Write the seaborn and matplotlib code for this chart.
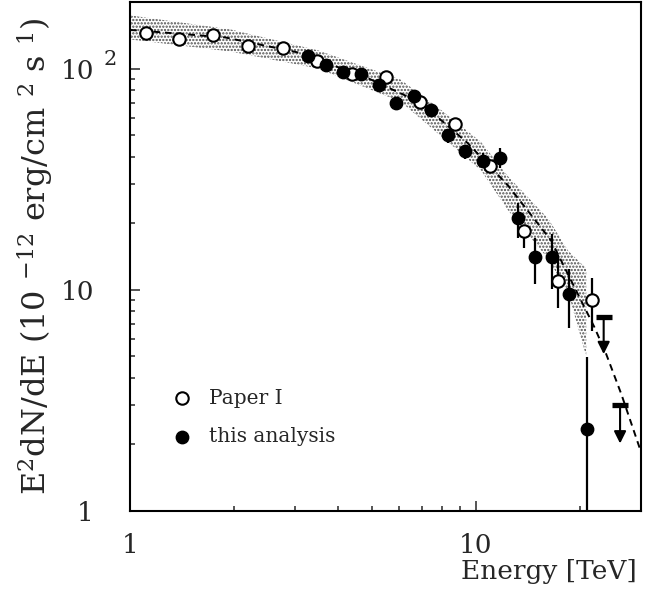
import numpy as np
import seaborn as sns
import matplotlib.pyplot as plt
from matplotlib.ticker import FixedLocator, FixedFormatter, NullFormatter, LogLocator

# Paper I (open circles)
paper_e = [1.11, 1.39, 1.74, 2.20, 2.76, 3.48, 4.37, 5.50, 6.90, 8.69, 10.98, 13.75, 17.25, 21.69]
paper_f = [145.3, 136.5, 141.3, 126.3, 124.2, 108.0, 94.6, 91.3, 70.3, 55.9, 36.4, 18.35, 10.99, 8.98]
paper_lo = [145.3, 136.5, 141.3, 126.3, 124.2, 108.0, 94.6, 91.3, 70.3, 55.9, 34.0, 15.4, 8.28, 6.51]
paper_up = [145.3, 136.5, 141.3, 126.3, 124.2, 108.0, 94.6, 91.3, 70.3, 55.9, 38.5, 19.5, 13.8, 11.3]

# this analysis (filled circles)
this_e = [3.27, 3.68, 4.14, 4.66, 5.25, 5.89, 6.63, 7.41, 8.32, 9.31, 10.46, 11.74, 13.21, 14.83, 16.61, 18.64, 20.94]
this_f = [114.6, 104.3, 96.6, 94.9, 84.6, 69.9, 75.4, 65.1, 50.0, 42.5, 38.2, 39.5, 21.1, 14.0, 14.1, 9.62, 2.34]
this_lo = [114.6, 104.3, 96.6, 94.9, 84.6, 69.9, 75.4, 65.1, 46.1, 39.0, 35.5, 35.5, 17.2, 10.65, 10.1, 6.72, 0.5]
this_up = [114.6, 104.3, 96.6, 94.9, 84.6, 69.9, 75.4, 65.1, 53.4, 45.1, 41.5, 43.7, 24.6, 17.2, 17.97, 12.46, 4.96]

# upper limits
ul_e = [23.4, 26.1]
ul_f = [7.56, 3.0]
ul_tip = [5.12, 2.02]

# fitted spectrum (dashed) and its error band
fit_e = [1.0, 1.055, 1.885, 3.07, 4.86, 6.93, 9.46, 12.36, 16.5, 21.98, 23.8, 26.33, 30.0]
fit_f = [149.5, 148.8, 138.3, 118.2, 90.7, 70.1, 46.1, 29.7, 16.7, 6.8, 5.12, 3.37, 1.85]

band_e = [1.0, 1.95, 3.51, 6.06, 7.92, 10.34, 12.38, 16.17, 18.48, 20.84]
band_hi = [174.1, 150.4, 120.7, 89.1, 65.1, 46.6, 32.6, 21.0, 15.0, 12.5]
band_lo = [135.5, 119.5, 100.0, 70.8, 49.6, 34.7, 22.9, 13.8, 9.7, 5.0]

sns.set_style('ticks')
plt.rcParams['font.family'] = ['DejaVu Serif']
plt.rcParams['mathtext.fontset'] = 'dejavuserif'
plt.rcParams['hatch.linewidth'] = 1.1

fig, ax = plt.subplots(figsize=(6.6, 5.96), dpi=100)
fig.subplots_adjust(left=0.197, right=0.9712, top=0.9966, bottom=0.1426)

ax.fill_between(band_e, band_lo, band_hi, facecolor='none', edgecolor='0.3',
                hatch='.....', linewidth=0, zorder=1)
sns.lineplot(x=fit_e, y=fit_f, ax=ax, color='black', lw=1.4, zorder=2,
             linestyle=(0, (3.5, 2.5)), sort=False)

pf = np.array(paper_f)
tf = np.array(this_f)
ax.errorbar(paper_e, paper_f, yerr=[pf - np.array(paper_lo), np.array(paper_up) - pf],
            fmt='none', ecolor='black', elinewidth=1.6, zorder=3)
ax.errorbar(this_e, this_f, yerr=[tf - np.array(this_lo), np.array(this_up) - tf],
            fmt='none', ecolor='black', elinewidth=1.6, zorder=3)

sns.scatterplot(x=paper_e, y=paper_f, ax=ax, s=80, marker='o', facecolor='white',
                edgecolor='black', linewidth=1.5, zorder=4, label='Paper I')
sns.scatterplot(x=this_e, y=this_f, ax=ax, s=80, marker='o', color='black',
                edgecolor='black', linewidth=1.0, zorder=4, label='this analysis')

# upper limits
ax.plot(ul_e, ul_f, linestyle='none', marker='_', ms=11, mew=3.8, color='black', zorder=4)
for e, f, t in zip(ul_e, ul_f, ul_tip):
    ax.annotate('', xy=(e, t), xytext=(e, f),
                arrowprops=dict(arrowstyle='-|>', color='black', lw=1.5,
                                mutation_scale=18, shrinkA=0, shrinkB=0))

ax.set_xscale('log')
ax.set_yscale('log')
ax.set_xlim(1, 30)
ax.set_ylim(1, 200)

ax.xaxis.set_major_locator(FixedLocator([1, 10]))
ax.xaxis.set_major_formatter(FixedFormatter(['1', '10']))
ax.xaxis.set_minor_locator(LogLocator(base=10, subs=np.arange(2, 10)))
ax.xaxis.set_minor_formatter(NullFormatter())
ax.yaxis.set_major_locator(FixedLocator([1, 10, 100]))
ax.yaxis.set_major_formatter(FixedFormatter(['1', '10', '10']))
ax.yaxis.set_minor_locator(LogLocator(base=10, subs=np.arange(2, 10)))
ax.yaxis.set_minor_formatter(NullFormatter())
# exponent of the "10 2" label, sitting past the right edge of the labels
ax.text(-0.052, 100, '2', transform=ax.get_yaxis_transform(), fontsize=15,
        ha='left', va='bottom')

ax.tick_params(which='both', direction='in', top=False, right=False, width=1.1, labelsize=19)
ax.tick_params(which='major', length=7)
ax.tick_params(which='minor', length=3.5)
ax.tick_params(axis='x', pad=16)
ax.tick_params(axis='y', pad=26)

for s in ax.spines.values():
    s.set_linewidth(1.5)
    s.set_color('black')

ax.set_xlabel('Energy [TeV]', fontsize=19)
ax.xaxis.set_label_coords(0.992, -0.094)
ax.xaxis.label.set_ha('right')
ax.xaxis.label.set_va('top')
ax.set_ylabel('E$^{2}$dN/dE (10 $^{-12}$ erg/cm $^{2}$ s $^{1}$)', fontsize=23)
ax.yaxis.set_label_coords(-0.145, 0.5)

ax.legend(loc='upper left', bbox_to_anchor=(0.026, 0.276), frameon=False, fontsize=14.5,
          handletextpad=0.35, labelspacing=0.95, markerscale=1.0)

plt.savefig('out.png', dpi=100)
